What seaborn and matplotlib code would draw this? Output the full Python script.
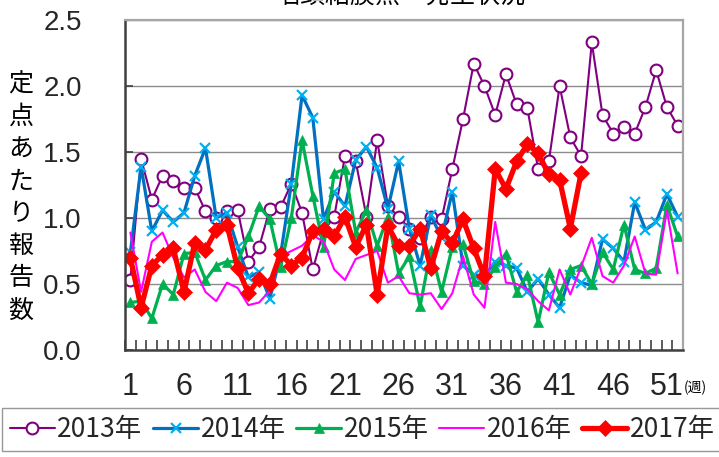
import matplotlib
matplotlib.use("Agg")
import matplotlib.pyplot as plt
import seaborn as sns

# 週番号
weeks = list(range(1, 53))

# 定点あたり報告数
y2013 = [0.53, 1.45, 1.14, 1.32, 1.28, 1.23, 1.23, 1.05, 1.00, 1.05,
         1.06, 0.67, 0.78, 1.07, 1.08, 1.26, 1.04, 0.61, 0.90, 1.01,
         1.47, 1.43, 1.01, 1.59, 1.09, 1.01, 0.92, 0.85, 1.01, 0.99,
         1.37, 1.75, 2.17, 2.00, 1.78, 2.09, 1.86, 1.83, 1.37, 1.43,
         2.00, 1.61, 1.47, 2.33, 1.78, 1.64, 1.69, 1.64, 1.84, 2.12,
         1.84, 1.70]
y2014 = [0.74, 1.39, 0.90, 1.06, 0.97, 1.04, 1.32, 1.53, 1.00, 1.04,
         0.78, 0.55, 0.59, 0.39, 0.72, 1.26, 1.93, 1.76, 0.99, 1.20,
         1.09, 1.44, 1.54, 1.38, 1.07, 1.43, 0.92, 0.64, 1.02, 0.85,
         1.20, 0.64, 0.57, 0.56, 0.67, 0.64, 0.62, 0.44, 0.54, 0.42,
         0.32, 0.57, 0.51, 0.49, 0.84, 0.77, 0.67, 1.12, 0.91, 0.97,
         1.18, 1.01]
y2015 = [0.36, 0.37, 0.24, 0.50, 0.42, 0.73, 0.74, 0.53, 0.64, 0.67,
         0.67, 0.86, 1.09, 0.99, 0.63, 1.00, 1.59, 1.17, 0.78, 1.34,
         1.37, 0.89, 1.06, 0.79, 1.01, 0.58, 0.71, 0.33, 0.76, 0.44,
         0.78, 0.80, 0.52, 0.50, 0.63, 0.73, 0.44, 0.57, 0.21, 0.59,
         0.42, 0.61, 0.64, 0.50, 0.74, 0.61, 0.95, 0.61, 0.58, 0.62,
         1.10, 0.86]
y2016 = [0.89, 0.44, 0.82, 0.89, 0.70, 0.55, 0.61, 0.44, 0.37, 0.51,
         0.47, 0.34, 0.36, 0.45, 0.71, 0.75, 0.79, 0.87, 0.82, 0.61,
         0.53, 0.69, 0.72, 0.75, 0.51, 0.56, 0.43, 0.42, 0.43, 0.31,
         0.43, 0.71, 0.42, 0.32, 0.97, 0.51, 0.50, 0.46, 0.37, 0.30,
         0.61, 0.42, 0.63, 0.85, 0.56, 0.51, 0.64, 0.86, 0.58, 0.57,
         1.06, 0.58]
y2017 = [0.70, 0.32, 0.64, 0.72, 0.77, 0.44, 0.81, 0.76, 0.91, 0.95,
         0.62, 0.43, 0.54, 0.50, 0.73, 0.64, 0.70, 0.90, 0.92, 0.86,
         1.01, 0.78, 0.95, 0.42, 0.94, 0.79, 0.79, 0.92, 0.62, 0.90,
         0.81, 0.99, 0.77, 0.56, 1.37, 1.22, 1.43, 1.56, 1.49, 1.33,
         1.29, 0.92, 1.34]

labels = ["2013年", "2014年", "2015年", "2016年", "2017年"]
tick_weeks = [1, 6, 11, 16, 21, 26, 31, 36, 41, 46, 51]
y_ticks = [0.0, 0.5, 1.0, 1.5, 2.0, 2.5]
title = "咽頭結膜熱　発生状況"
ylabel = "定点あたり報告数"

sns.set_theme(style="white")
plt.rcParams["font.family"] = ["Liberation Sans", "Noto Sans CJK JP", "DejaVu Sans"]
jp = ["Noto Sans CJK JP", "DejaVu Sans"]

W, H = 719, 457
fig = plt.figure(figsize=(W / 100, H / 100), dpi=100)
ax = fig.add_axes([125 / W, (H - 350) / H, 558 / W, 330 / H])

# 系列ごとの線・マーカー
sns.lineplot(x=weeks, y=y2013, ax=ax, color="#800080", lw=1.5, marker="o",
             markersize=8.5, markerfacecolor="white", markeredgecolor="#800080",
             markeredgewidth=1.5, label=labels[0])
sns.lineplot(x=weeks, y=y2014, ax=ax, color="#0070C0", lw=2.3, marker="x",
             markersize=7, markeredgecolor="#00B0F0", markeredgewidth=1.6,
             label=labels[1])
sns.lineplot(x=weeks, y=y2015, ax=ax, color="#00B050", lw=2.3, marker="^",
             markersize=7.5, markerfacecolor="#00B050", markeredgecolor="#00B050",
             markeredgewidth=0.5, label=labels[2])
sns.lineplot(x=weeks, y=y2016, ax=ax, color="#FF00FF", lw=1.5, label=labels[3])
sns.lineplot(x=weeks[:len(y2017)], y=y2017, ax=ax, color="#FF0000", lw=3.8,
             marker="D", markersize=8.5, markerfacecolor="#FF0000",
             markeredgecolor="#FF0000", markeredgewidth=0.5, label=labels[4])

ax.set_xlim(0.5, 52.5)
ax.set_ylim(0, 2.5)
ax.set_yticks(y_ticks)
ax.set_yticklabels([f"{v:.1f}" for v in y_ticks])
ax.set_xticks(tick_weeks)
ax.set_xticks([w + 0.5 for w in range(0, 53)], minor=True)
ax.tick_params(axis="x", which="major", length=0, pad=16, labelsize=21)
ax.tick_params(axis="x", which="minor", direction="in", length=7, width=1.2,
               color="#404040", bottom=True)
ax.tick_params(axis="y", direction="in", length=6, width=1.2, color="#404040",
               left=True, pad=31, labelsize=20)
for lab in ax.get_xticklabels():
    lab.set_fontfamily(["Liberation Sans Narrow", "Liberation Sans"])
    lab.set_fontsize(22)
ax.set_xlabel("")
ax.set_ylabel("")
ax.grid(axis="y", color="#8c8c8c", lw=1.0)
ax.grid(axis="x", visible=False)

for side in ["top", "right"]:
    ax.spines[side].set_color("#a6a6a6")
    ax.spines[side].set_linewidth(1.6)
for side in ["left", "bottom"]:
    ax.spines[side].set_color("#404040")
    ax.spines[side].set_linewidth(1.8)

# タイトル（元図と同じく上端で切れている）
fig.text(400 / W, 1 + 4 / H, title, ha="center", va="center", fontsize=18,
         family=jp, color="black")

# 縦書きの軸ラベル
for i, ch in enumerate(ylabel):
    fig.text(21 / W, 1 - (85 + i * 32.2) / H, ch, ha="center", va="center",
             fontsize=18, family=jp, color="black")

fig.text(684 / W, 1 - 388 / H, "(週)", ha="left", va="center", fontsize=10,
         family=jp, color="black")

ax.get_legend().remove()
handles, _ = ax.get_legend_handles_labels()
leg = fig.legend(handles, labels, loc="upper left",
                 bbox_to_anchor=(2 / W, 1 - 408 / H), ncol=5,
                 prop={"family": jp, "size": 19}, frameon=True, fancybox=False,
                 edgecolor="#7f7f7f", handlelength=1.7, handletextpad=0.1,
                 columnspacing=0.4, borderpad=0.3, borderaxespad=0)
leg.get_frame().set_linewidth(1.0)

fig.savefig("out.png", dpi=100)
